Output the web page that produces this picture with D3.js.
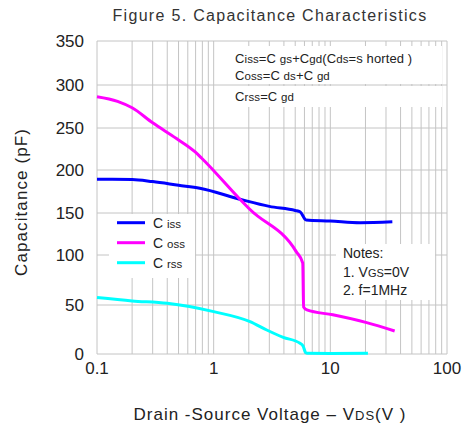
<!DOCTYPE html>
<html>
<head>
<meta charset="utf-8">
<script src="https://cdn.jsdelivr.net/npm/d3@7"></script>
<style>
  html, body { margin: 0; padding: 0; background: #fff; }
  svg { display: block; font-family: "Liberation Sans", Arial, sans-serif; }
</style>
</head>
<body>
<svg id="chart" width="463" height="428"></svg>
<script>
// Capacitance vs drain-source voltage (V), values in pF
const cissV = [0.1, 0.2, 0.3, 0.5, 0.76, 1.68, 3, 5.0, 5.5, 6.2, 10, 18, 34];
const cissC = [189.2, 189, 186.5, 182.2, 178.7, 166, 157.7, 153, 151.5, 141.7, 140.5, 138.5, 139.6];

const cossV = [0.1, 0.15, 0.2, 0.3, 0.48, 0.69, 0.79, 1.68, 2.05, 5.1, 5.8, 5.9, 6.3, 10.5, 20.5, 35.6];
const cossC = [286.4, 281, 273.5, 256, 237.5, 221.8, 214, 166, 154, 104, 92, 48, 45, 40, 32, 23.5];

const crssV = [0.1, 0.2, 0.4, 1, 2.05, 2.85, 3.95, 5.5, 5.85, 6.1, 6.3, 10, 21];
const crssC = [57.4, 54.1, 51.7, 43.2, 33, 24.5, 17, 10.9, 8, 2, 0.8, 0.6, 0.8];

const yTicks = [0, 50, 100, 150, 200, 250, 300, 350];
const xTicks = [0.1, 1, 10, 100];
const xTickLabels = ["0.1", "1", "10", "100"];

const seriesNames = ["iss", "oss", "rss"];
const seriesColors = ["#0000ff", "#ff00ff", "#00ffff"];

const svg = d3.select("#chart");

// Plot frame
const plotLeft = 97, plotRight = 447, plotTop = 41, plotBottom = 354;

const x = d3.scaleLog().domain([0.1, 100]).range([plotLeft, plotRight]);
// Vertical axis as drawn on the sheet: gridline pixel rows per tick
const yRows = [354, 305, 255, 213, 170, 128, 85, 41];
const y = d3.scaleLinear().domain(yTicks).range(yRows);

const gridColor = "#c4c4c4";
const textColor = "#222";

// Vertical gridlines at every 1..9 within each decade
const minorX = [];
for (let d = 0.1; d < 100; d *= 10) {
  for (let k = 1; k <= 9; k++) minorX.push(+(d * k).toPrecision(3));
}
minorX.push(100);

const grid = svg.append("g");
grid.selectAll("line.v").data(minorX).enter().append("line")
  .attr("x1", d => x(d)).attr("x2", d => x(d))
  .attr("y1", plotTop).attr("y2", plotBottom)
  .attr("stroke", gridColor).attr("stroke-width", 1);
grid.selectAll("line.h").data(yTicks).enter().append("line")
  .attr("x1", plotLeft).attr("x2", plotRight)
  .attr("y1", d => y(d)).attr("y2", d => y(d))
  .attr("stroke", gridColor).attr("stroke-width", 1);

// Y tick labels
svg.append("g").selectAll("text").data(yTicks).enter().append("text")
  .attr("x", 84).attr("y", d => y(d) + 6)
  .attr("text-anchor", "end")
  .attr("font-size", 17).attr("fill", textColor)
  .text(d => d);

// X tick labels
svg.append("g").selectAll("text").data(xTicks).enter().append("text")
  .attr("x", d => x(d)).attr("y", 374)
  .attr("text-anchor", "middle")
  .attr("font-size", 17).attr("fill", textColor)
  .text((d, i) => xTickLabels[i]);

// Title
svg.append("text")
  .attr("x", 270).attr("y", 21)
  .attr("text-anchor", "middle")
  .attr("font-size", 16).attr("letter-spacing", 1.3)
  .attr("fill", "#333")
  .text("Figure 5. Capacitance Characteristics");

// Axis titles
svg.append("text")
  .attr("transform", "translate(27,202) rotate(-90)")
  .attr("text-anchor", "middle")
  .attr("font-size", 17).attr("letter-spacing", 1.1)
  .attr("fill", textColor)
  .text("Capacitance (pF)");

const xt = svg.append("text")
  .attr("x", 270).attr("y", 420)
  .attr("text-anchor", "middle")
  .attr("font-size", 17).attr("letter-spacing", 1)
  .attr("fill", textColor);
xt.append("tspan").text("Drain -Source Voltage  \u2013  V");
xt.append("tspan").attr("font-size", 13).text("DS");
xt.append("tspan").text("(V )");

// Formula box, upper right
const fb = svg.append("g");
fb.append("rect").attr("x", 224).attr("y", 46).attr("width", 218).attr("height", 38).attr("fill", "#fff");
fb.append("rect").attr("x", 224).attr("y", 86).attr("width", 218).attr("height", 21).attr("fill", "#fff");
const formulas = [
  ["C", "iss", "=C ", "gs", "+C", "gd", "(C", "ds", "=s horted )"],
  ["C", "oss", "=C ", "ds", "+C ", "gd"],
  ["C", "rss", "=C ", "gd"]
];
formulas.forEach((parts, i) => {
  const t = fb.append("text")
    .attr("x", 235).attr("y", [63, 80, 101][i])
    .attr("font-size", 13).attr("letter-spacing", 0.1)
    .attr("fill", textColor);
  parts.forEach((p, j) => {
    t.append("tspan").attr("font-size", j % 2 ? 11.5 : 13).text(p);
  });
});

// Curves
const line = d3.line()
  .x(d => x(d[0])).y(d => y(d[1]))
  .curve(d3.curveMonotoneX);

const series = [
  d3.zip(cissV, cissC),
  d3.zip(cossV, cossC),
  d3.zip(crssV, crssC)
];
svg.append("g").selectAll("path").data(series).enter().append("path")
  .attr("d", line)
  .attr("fill", "none")
  .attr("stroke", (d, i) => seriesColors[i])
  .attr("stroke-width", 3)
  .attr("stroke-linejoin", "round");

// Legend
const lg = svg.append("g");
lg.append("rect").attr("x", 109).attr("y", 214).attr("width", 86).attr("height", 64).attr("fill", "#fff");
seriesNames.forEach((n, i) => {
  const ly = 222.7 + i * 20;
  lg.append("line")
    .attr("x1", 117).attr("x2", 145)
    .attr("y1", ly).attr("y2", ly)
    .attr("stroke", seriesColors[i]).attr("stroke-width", 3);
  const t = lg.append("text")
    .attr("x", 153).attr("y", ly + 5)
    .attr("font-size", 14).attr("fill", textColor);
  t.append("tspan").text("C ");
  t.append("tspan").attr("font-size", 11.5).text(n);
});

// Notes box
const nb = svg.append("g");
nb.append("rect").attr("x", 336).attr("y", 244).attr("width", 99).attr("height", 56).attr("fill", "#fff");
const notes = [
  [["Notes:", 14]],
  [["1. V", 14], ["GS", 11], ["=0V", 14]],
  [["2. f=1MHz", 14]]
];
notes.forEach((parts, i) => {
  const t = nb.append("text")
    .attr("x", 343).attr("y", [258, 277, 295][i])
    .attr("fill", textColor);
  parts.forEach(p => t.append("tspan").attr("font-size", p[1]).text(p[0]));
});
</script>
</body>
</html>
